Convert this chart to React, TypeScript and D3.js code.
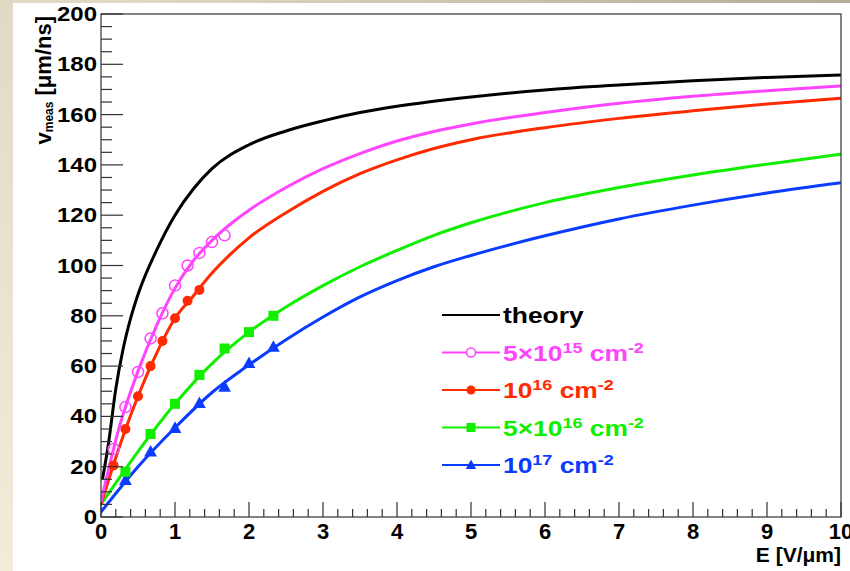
import * as d3 from 'd3';

// drift velocity vs field
const theoryE = [0.02, 0.1, 0.2, 0.3, 0.4, 0.5, 0.75, 1.0, 1.25, 1.5, 2.0, 2.5, 3.0, 3.5, 4.0, 5.0, 6.0, 7.0, 8.0, 9.0, 10];
const theoryV = [15, 29, 51, 67, 79, 88.5, 106, 120, 130.5, 138.5, 148, 153.5, 157.5, 160.8, 163.3, 167, 169.8, 171.8, 173.5, 174.8, 175.7];

const magentaE = [0, 0.25, 0.5, 0.75, 1.0, 1.25, 1.5, 1.75, 2.0, 2.5, 3.0, 3.5, 4.0, 4.5, 5.0, 6.0, 7.0, 8.0, 9.0, 10];
const magentaV = [6, 36, 58, 76, 91, 102, 110, 116.5, 122, 131, 138.5, 144.5, 149.5, 153.3, 156.3, 160.8, 164.5, 167.3, 169.5, 171.4];

const redE = [0, 0.25, 0.5, 0.75, 1.0, 1.25, 1.5, 1.75, 2.0, 2.5, 3.0, 3.5, 4.0, 4.5, 5.0, 6.0, 7.0, 8.0, 9.0, 10];
const redV = [5, 28, 48, 65, 79, 88, 97, 104.5, 111, 121, 129.5, 136.5, 142, 146.5, 150, 154.8, 158.5, 161.5, 164.2, 166.5];

const greenE = [0, 0.5, 1.0, 1.5, 2.0, 2.5, 3.0, 3.5, 4.0, 4.5, 5.0, 6.0, 7.0, 8.0, 9.0, 10];
const greenV = [5, 26, 45, 61, 73.5, 83.5, 92, 99.5, 106, 112, 117, 125, 131, 136, 140.3, 144.3];

const blueE = [0, 0.5, 1.0, 1.5, 2.0, 2.5, 3.0, 3.5, 4.0, 4.5, 5.0, 6.0, 7.0, 8.0, 9.0, 10];
const blueV = [2, 20, 35.5, 49.5, 60.5, 70.5, 79.5, 87.5, 94, 99.5, 104, 111.8, 118.5, 124, 128.8, 132.9];

// measured points (markers)
const magentaPtE = [0.17, 0.33, 0.5, 0.67, 0.83, 1.0, 1.17, 1.33, 1.5, 1.67];
const magentaPtV = [27, 43.7, 57.7, 71, 81, 92, 100, 105, 109.3, 112];
const redPtE = [0.17, 0.33, 0.5, 0.67, 0.83, 1.0, 1.17, 1.33];
const redPtV = [20.5, 35, 48, 60, 70, 79, 86, 90.3];
const greenPtE = [0.33, 0.67, 1.0, 1.33, 1.67, 2.0, 2.33];
const greenPtV = [18, 33, 45, 56.5, 67, 73.5, 80];
const bluePtE = [0.33, 0.67, 1.0, 1.33, 1.67, 2.0, 2.33];
const bluePtV = [14.7, 26, 35.4, 45.3, 51.8, 61.2, 67.7];

const xTicks = [0, 1, 2, 3, 4, 5, 6, 7, 8, 9, 10];
const yTicks = [0, 20, 40, 60, 80, 100, 120, 140, 160, 180, 200];

const W = 850, H = 571;
const margin = { top: 14, right: 9, bottom: 54, left: 101 };
const FONT = "'Liberation Sans', Arial, Helvetica, sans-serif";

const C_BLACK = '#000000';
const C_MAG = '#ff44ff';
const C_RED = '#ff2a00';
const C_GREEN = '#11ee00';
const C_BLUE = '#0a3cff';

const zip = (xs: number[], ys: number[]) => xs.map((x, i) => [x, ys[i]] as [number, number]);

export default function App() {
  const x = d3.scaleLinear().domain([0, 10]).range([margin.left, W - margin.right]);
  const y = d3.scaleLinear().domain([0, 200]).range([H - margin.bottom, margin.top]);
  const x0 = x.range()[0], x1 = x.range()[1];
  const y0 = y.range()[0], y1 = y.range()[1];

  const line = d3.line<[number, number]>()
    .x(d => x(d[0]))
    .y(d => y(d[1]))
    .curve(d3.curveMonotoneX);

  const series = [
    { e: blueE, v: blueV, c: C_BLUE },
    { e: greenE, v: greenV, c: C_GREEN },
    { e: redE, v: redV, c: C_RED },
    { e: magentaE, v: magentaV, c: C_MAG },
    { e: theoryE, v: theoryV, c: C_BLACK },
  ];

  const xMinor = d3.range(0, 10.001, 0.2);
  const yMinor = d3.range(0, 200.001, 5);

  const tri = (cx: number, cy: number, s: number) =>
    `M${cx},${cy - s * 0.6}L${cx + s * 0.58},${cy + s * 0.45}L${cx - s * 0.58},${cy + s * 0.45}Z`;

  const legendRows = [
    { c: C_BLACK, kind: 'none' },
    { c: C_MAG, kind: 'open' },
    { c: C_RED, kind: 'circle' },
    { c: C_GREEN, kind: 'square' },
    { c: C_BLUE, kind: 'tri' },
  ];
  const legX0 = 442, legX1 = 500, legY0 = 315, legDy = 37.5, legTx = 503;

  const sup = (s: string) => (
    <tspan fontSize={15} dy={-8}>{s}</tspan>
  );

  const legendText = [
    <text key="t">theory</text>,
    <text key="m">5×10{sup('15')}<tspan dy={8}> cm</tspan>{sup('-2')}</text>,
    <text key="r">10{sup('16')}<tspan dy={8}> cm</tspan>{sup('-2')}</text>,
    <text key="g">5×10{sup('16')}<tspan dy={8}> cm</tspan>{sup('-2')}</text>,
    <text key="b">10{sup('17')}<tspan dy={8}> cm</tspan>{sup('-2')}</text>,
  ];

  return (
    <svg width={W} height={H} style={{ position: 'absolute', left: 0, top: 0, display: 'block' }}
      fontFamily={FONT} fontWeight="bold">
      <defs>
        <linearGradient id="bg" x1="0" y1="1" x2="1" y2="0">
          <stop offset="0" stopColor="#f2ecda" />
          <stop offset="0.6" stopColor="#ddd6c2" />
          <stop offset="1" stopColor="#b4ac97" />
        </linearGradient>
        <clipPath id="plot">
          <rect x={x0} y={y1} width={x1 - x0} height={y0 - y1} />
        </clipPath>
      </defs>
      <rect width={W} height={H} fill="url(#bg)" />
      <rect x={13} y={3} width={W - 13} height={H - 3} fill="#ffffff" />

      {/* curves */}
      <g clipPath="url(#plot)" fill="none" strokeWidth={3} strokeLinejoin="round">
        {series.map((s, i) => (
          <path key={i} d={line(zip(s.e, s.v)) || ''} stroke={s.c} />
        ))}
      </g>

      {/* markers */}
      <g>
        {zip(bluePtE, bluePtV).map((d, i) => (
          <path key={'b' + i} d={tri(x(d[0]), y(d[1]), 11)} fill={C_BLUE} />
        ))}
        {zip(greenPtE, greenPtV).map((d, i) => (
          <rect key={'g' + i} x={x(d[0]) - 5} y={y(d[1]) - 5} width={10} height={10} fill={C_GREEN} />
        ))}
        {zip(redPtE, redPtV).map((d, i) => (
          <circle key={'r' + i} cx={x(d[0])} cy={y(d[1])} r={5} fill={C_RED} />
        ))}
        {zip(magentaPtE, magentaPtV).map((d, i) => (
          <circle key={'m' + i} cx={x(d[0])} cy={y(d[1])} r={5.5} fill="none" stroke={C_MAG} strokeWidth={1.5} />
        ))}
      </g>

      {/* frame and axes */}
      <rect x={x0} y={y1} width={x1 - x0} height={y0 - y1} fill="none" stroke="#333" strokeWidth={1.2} />
      <g stroke="#333" strokeWidth={1.2}>
        {yMinor.map(v => (
          <line key={'ym' + v} x1={x0} x2={x0 + (v % 20 === 0 ? 22 : 11)} y1={y(v)} y2={y(v)} />
        ))}
        {xMinor.map((v, i) => (
          <line key={'xm' + i} x1={x(v)} x2={x(v)} y1={y0} y2={y0 - (i % 5 === 0 ? 15 : 8)} />
        ))}
      </g>
      <g fontSize={20} fill="#000">
        {yTicks.map(v => (
          <text key={'yl' + v} transform={`translate(${x0 - 4},${y(v) + 7}) scale(1.2,1)`} textAnchor="end">{v}</text>
        ))}
      </g>
      <g fontSize={22} fill="#000">
        {xTicks.map(v => (
          <text key={'xl' + v} x={x(v)} y={y0 + 22} textAnchor="middle">{v}</text>
        ))}
      </g>
      <text x={x1} y={562} textAnchor="end" fontSize={21}>E [V/μm]</text>
      <text transform="translate(51,16) rotate(-90)" textAnchor="end" fontSize={22}>
        v<tspan fontSize={12} dy={2}>meas</tspan><tspan dy={-2}> [μm/ns]</tspan>
      </text>

      {/* legend */}
      <g>
        {legendRows.map((r, i) => {
          const ly = legY0 + i * legDy;
          const cx = (legX0 + legX1) / 2;
          return (
            <g key={'lg' + i}>
              <line x1={legX0} x2={legX1} y1={ly} y2={ly} stroke={r.c} strokeWidth={2} />
              {r.kind === 'open' && <circle cx={cx} cy={ly} r={4.5} fill="#fff" stroke={r.c} strokeWidth={1.5} />}
              {r.kind === 'circle' && <circle cx={cx} cy={ly} r={4.5} fill={r.c} />}
              {r.kind === 'square' && <rect x={cx - 4.5} y={ly - 4.5} width={9} height={9} fill={r.c} />}
              {r.kind === 'tri' && <path d={tri(cx, ly, 9)} fill={r.c} />}
              <g transform={`translate(${legTx},${ly + 8}) scale(1.2,1)`} fill={r.c} fontSize={22}>
                {legendText[i]}
              </g>
            </g>
          );
        })}
      </g>
    </svg>
  );
}
